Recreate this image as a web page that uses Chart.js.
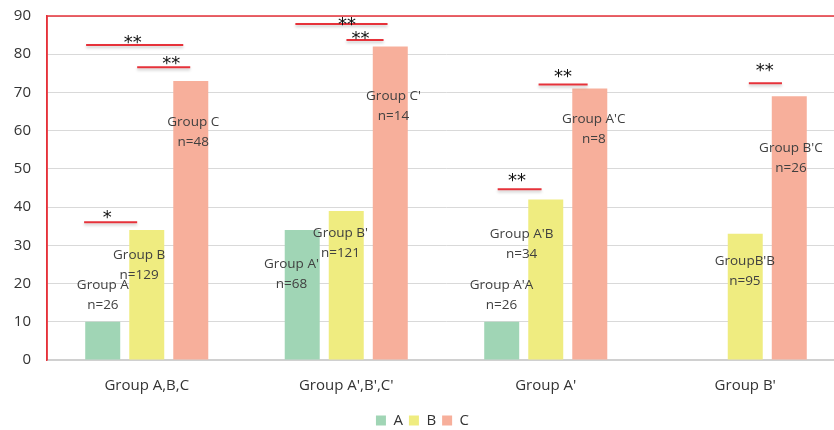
<!DOCTYPE html>
<html>
<head>
<meta charset="utf-8">
<script src="https://cdn.jsdelivr.net/npm/chart.js@4.4.0/dist/chart.umd.min.js"></script>
<style>
  html, body { margin: 0; padding: 0; background: #fff; overflow: hidden; }
  #wrap { position: relative; width: 846px; height: 440px; }
</style>
</head>
<body>
<div id="wrap"><canvas id="chart"></canvas></div>
<script>
// ---------------- DATA ----------------
const categories = ["Group A,B,C", "Group A',B',C'", "Group A'", "Group B'"];
const seriesNames = ["A", "B", "C"];
const seriesA = [10, 34, 10, null];
const seriesB = [34, 39, 42, 33];
const seriesC = [73, 82, 71, 69];
const yTicks = [0, 10, 20, 30, 40, 50, 60, 70, 80, 90];

// group labels: [category, text line 1, text line 2]
const groupLabels = [
  [0, "Group A", "n=26"],
  [0, "Group B", "n=129"],
  [0, "Group C", "n=48"],
  [1, "Group A'", "n=68"],
  [1, "Group B'", "n=121"],
  [1, "Group C'", "n=14"],
  [2, "Group A'A", "n=26"],
  [2, "Group A'B", "n=34"],
  [2, "Group A'C", "n=8"],
  [3, "GroupB'B", "n=95"],
  [3, "Group B'C", "n=26"]
];
// significance marks: [category, stars]
const sigMarks = [
  [0, "**"], [0, "**"], [0, "*"],
  [1, "**"], [1, "**"],
  [2, "**"], [2, "**"],
  [3, "**"]
];

// ---------------- ANNOTATION PLACEMENT (category-width offsets, value units) ----------------
const labelPlace = [
  [-0.22, 19.7], [-0.038, 27.4], [0.233, 62.1],
  [-0.275, 25.0], [-0.029, 33.2], [0.237, 68.9],
  [-0.222, 19.7], [-0.121, 32.9], [0.241, 62.9],
  [-0.002, 25.8], [0.229, 55.3]
];
// [from, to, level, star dx, star level]
const sigPlace = [
  [-0.304, 0.183, 82.4, -0.070, 83.9],
  [-0.048, 0.218, 76.6, 0.123, 78.3],
  [-0.314, -0.048, 36.05, -0.198, 38.2],
  [-0.255, 0.207, 87.9, 0.004, 88.7],
  [0.001, 0.187, 83.7, 0.071, 84.9],
  [-0.241, -0.021, 44.7, -0.144, 47.9],
  [-0.036, 0.210, 72.1, 0.087, 75.0],
  [0.018, 0.184, 72.4, 0.098, 76.7]
];

const colors = ["#a0d5b5", "#efec80", "#f7af9b"];
const red = "#e6323a";

const annotate = {
  id: "annotate",
  afterDatasetsDraw(chart) {
    const { ctx, chartArea: a, scales: { x, y } } = chart;
    const cw = x.width / categories.length;
    const px = (c, d) => x.getPixelForValue(c) + d * cw;

    // frame: red top and left
    ctx.save();
    ctx.strokeStyle = red;
    ctx.lineWidth = 1.5;
    ctx.beginPath();
    ctx.moveTo(a.left, a.bottom);
    ctx.lineTo(a.left, a.top);
    ctx.lineTo(a.right, a.top);
    ctx.stroke();
    ctx.restore();

    // group labels
    ctx.save();
    ctx.font = "13.5px 'Open Sans'";
    ctx.fillStyle = "#404040";
    ctx.textAlign = "center";
    ctx.textBaseline = "middle";
    groupLabels.forEach((g, i) => {
      const [d, v] = labelPlace[i];
      const cx = px(g[0], d);
      const cy = y.getPixelForValue(v);
      ctx.fillText(g[1], cx, cy);
      ctx.fillText(g[2], cx, cy + 20);
    });
    ctx.restore();

    // significance lines and stars
    sigMarks.forEach((m, i) => {
      const [f, t, lv, sd, sv] = sigPlace[i];
      const ly = y.getPixelForValue(lv);
      ctx.save();
      ctx.shadowColor = "rgba(0,0,0,0.22)";
      ctx.shadowBlur = 3;
      ctx.shadowOffsetY = 2;
      ctx.strokeStyle = red;
      ctx.lineWidth = 2;
      ctx.beginPath();
      ctx.moveTo(px(m[0], f), ly);
      ctx.lineTo(px(m[0], t), ly);
      ctx.stroke();
      ctx.restore();

      ctx.save();
      ctx.font = "18px 'DejaVu Sans'";
      ctx.fillStyle = "#111";
      ctx.textAlign = "center";
      ctx.textBaseline = "middle";
      ctx.fillText(m[1], px(m[0], sd), y.getPixelForValue(sv) + 4);
      ctx.restore();
    });
  }
};

new Chart(document.getElementById("chart"), {
  type: "bar",
  data: {
    labels: categories,
    datasets: [seriesA, seriesB, seriesC].map((d, i) => ({
      label: seriesNames[i],
      data: d,
      backgroundColor: colors[i],
      categoryPercentage: 0.662,
      barPercentage: 0.795
    }))
  },
  options: {
    responsive: true,
    maintainAspectRatio: false,
    animation: false,
    layout: { padding: { left: 0, right: 1, top: 16, bottom: 2 } },
    plugins: {
      legend: {
        position: "bottom",
        labels: {
          boxWidth: 10,
          boxHeight: 10,
          padding: 6,
          color: "#333",
          font: { family: "'Open Sans'", size: 15 }
        }
      },
      tooltip: { enabled: false }
    },
    scales: {
      x: {
        grid: { display: false, drawTicks: false },
        border: { color: "#d0d0d0", width: 2 },
        ticks: { color: "#333", padding: 17, font: { family: "'Open Sans'", size: 15 } },
        afterFit: s => { s.height = 47; s.paddingLeft = 0; s.paddingRight = 0; }
      },
      y: {
        min: 0,
        max: 90,
        afterBuildTicks: s => { s.ticks = yTicks.map(v => ({ value: v })); },
        grid: { color: "#d9d9d9", drawTicks: false },
        border: { color: red, width: 1.5 },
        ticks: { color: "#333", padding: 16, font: { family: "'Open Sans'", size: 15 } },
        afterFit: s => { s.width = 47; s.paddingTop = 0; s.paddingBottom = 0; }
      }
    }
  },
  plugins: [annotate]
});
</script>
</body>
</html>
